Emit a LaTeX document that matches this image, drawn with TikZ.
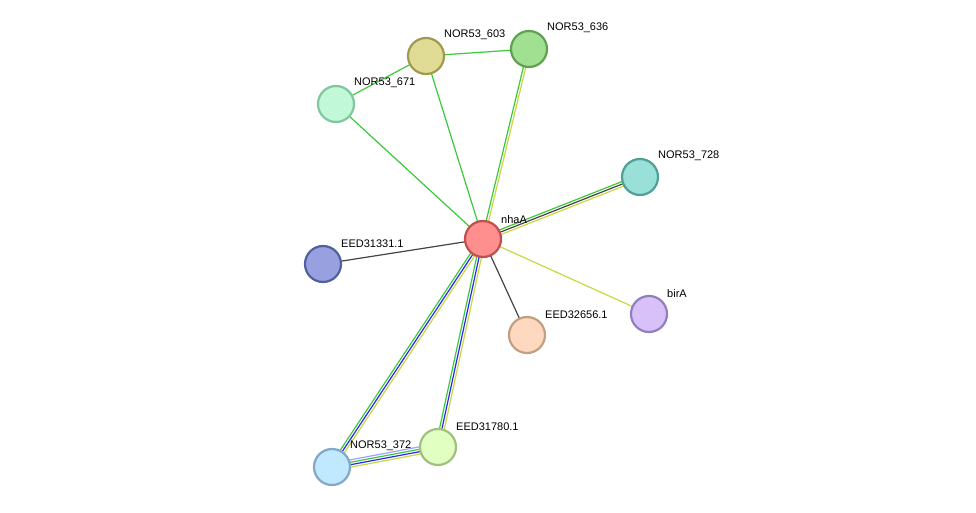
\documentclass[tikz,border=0pt]{standalone}
\usepackage{fontspec}
\setmainfont{Liberation Sans}
\usetikzlibrary{calc}
\definecolor{eg}{HTML}{3CC83C}
\definecolor{ey}{HTML}{C8D840}
\definecolor{ek}{HTML}{444444}
\definecolor{eb}{HTML}{2828F0}
\definecolor{el}{HTML}{A0A0FF}
\tikzset{
  x=1pt,y=-1pt,
  prot/.style={circle,minimum size=36pt,inner sep=0pt,line width=2.2pt},
  lab/.style={font=\fontsize{11}{13}\selectfont,anchor=south west,inner sep=1pt},
  ed/.style={line width=1.2pt}
}
% \multi{a}{b}{offset}{color}
\newcommand{\edgeoff}[4]{\draw[ed,#4] ($(#1)!#3!90:(#2)$) -- ($(#2)!#3!-90:(#1)$);}
\begin{document}
\begin{tikzpicture}
\useasboundingbox (0,0) rectangle (976,513);
\coordinate (nhaA) at (483,239);
\coordinate (p603) at (426,56);
\coordinate (p636) at (529,49);
\coordinate (p671) at (336,104);
\coordinate (p728) at (640,177);
\coordinate (e331) at (323,264);
\coordinate (birA) at (649,314);
\coordinate (e656) at (527,335);
\coordinate (e780) at (438,447);
\coordinate (p372) at (332,467);
% edges
\edgeoff{nhaA}{p603}{0pt}{eg}
\edgeoff{nhaA}{p671}{0pt}{eg}
\edgeoff{p603}{p636}{0pt}{eg}
\edgeoff{p603}{p671}{0pt}{eg}
\edgeoff{nhaA}{p636}{1.2pt}{eg}
\edgeoff{nhaA}{p636}{-1.2pt}{ey}
\edgeoff{nhaA}{p728}{2.4pt}{eg}
\edgeoff{nhaA}{p728}{0pt}{ek}
\edgeoff{nhaA}{p728}{-2.4pt}{ey}
\edgeoff{nhaA}{e331}{0pt}{ek}
\edgeoff{nhaA}{birA}{0pt}{ey}
\edgeoff{nhaA}{e656}{0pt}{ek}
\edgeoff{nhaA}{p372}{-2.4pt}{eg}
\edgeoff{nhaA}{p372}{0pt}{eb}
\edgeoff{nhaA}{p372}{2.4pt}{ey}
\edgeoff{nhaA}{e780}{-2.4pt}{eg}
\edgeoff{nhaA}{e780}{0pt}{eb}
\edgeoff{nhaA}{e780}{2.4pt}{ey}
\edgeoff{p372}{e780}{-3.6pt}{ey}
\edgeoff{p372}{e780}{-1.2pt}{eb}
\edgeoff{p372}{e780}{1.2pt}{eg}
\edgeoff{p372}{e780}{3.6pt}{el}
% nodes
\node[prot,fill={rgb,255:red,255;green,143;blue,143},draw={rgb,255:red,192;green,80;blue,80}] (nnhaA) at (nhaA) {};
\node[prot,fill={rgb,255:red,224;green,220;blue,150},draw={rgb,255:red,160;green,154;blue,80}] (n603) at (p603) {};
\node[prot,fill={rgb,255:red,160;green,224;blue,144},draw={rgb,255:red,96;green,160;blue,80}] (n636) at (p636) {};
\node[prot,fill={rgb,255:red,192;green,248;blue,216},draw={rgb,255:red,128;green,200;blue,160}] (n671) at (p671) {};
\node[prot,fill={rgb,255:red,152;green,224;blue,216},draw={rgb,255:red,80;green,160;blue,152}] (n728) at (p728) {};
\node[prot,fill={rgb,255:red,152;green,160;blue,224},draw={rgb,255:red,80;green,96;blue,160}] (n331) at (e331) {};
\node[prot,fill={rgb,255:red,216;green,192;blue,248},draw={rgb,255:red,144;green,128;blue,192}] (nbirA) at (birA) {};
\node[prot,fill={rgb,255:red,255;green,216;blue,192},draw={rgb,255:red,192;green,160;blue,128}] (n656) at (e656) {};
\node[prot,fill={rgb,255:red,224;green,255;blue,192},draw={rgb,255:red,160;green,192;blue,128}] (n780) at (e780) {};
\node[prot,fill={rgb,255:red,192;green,232;blue,255},draw={rgb,255:red,128;green,168;blue,200}] (n372) at (p372) {};
% labels
\node[lab] (lnhaA) at (500,225) {nhaA};
\node[lab] (l603) at (443,41) {NOR53\_603};
\node[lab] (l636) at (546,34) {NOR53\_636};
\node[lab] (l671) at (353,89) {NOR53\_671};
\node[lab] (l728) at (657,162) {NOR53\_728};
\node[lab] (l331) at (340,249) {EED31331.1};
\node[lab] (lbirA) at (666,299) {birA};
\node[lab] (l656) at (544,320) {EED32656.1};
\node[lab] (l780) at (455,432) {EED31780.1};
\node[lab] (l372) at (349,452) {NOR53\_372};
\end{tikzpicture}
\end{document}
